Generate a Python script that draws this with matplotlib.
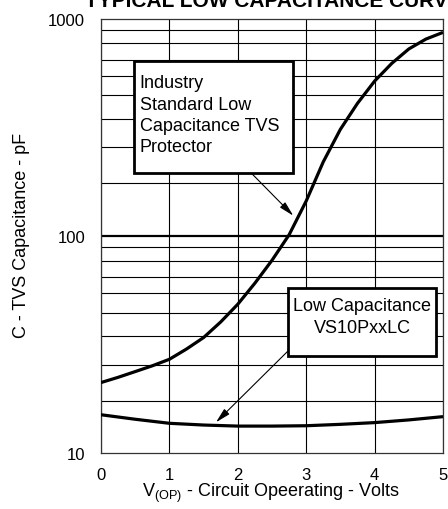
import numpy as np
import matplotlib
matplotlib.use("Agg")
import matplotlib.pyplot as plt
from matplotlib.patches import Rectangle
from matplotlib.ticker import FixedLocator, NullFormatter

plt.rcParams['font.family'] = ['Liberation Sans', 'DejaVu Sans']
plt.rcParams['mathtext.fontset'] = 'custom'
plt.rcParams['mathtext.rm'] = 'Liberation Sans'
plt.rcParams['mathtext.it'] = 'Liberation Sans:italic'

# ---- data ----
v_industry = [0, 0.25, 0.5, 0.75, 1.0, 1.25, 1.5, 1.75, 2.0, 2.25, 2.5, 2.75,
              3.0, 3.25, 3.5, 3.75, 4.0, 4.25, 4.5, 4.75, 5.0]
c_industry = [21.1, 22.3, 23.7, 25.2, 27.0, 30.1, 34.0, 40.1, 48.4, 60.5, 77.1, 101,
              144.5, 219, 309, 407, 515, 621, 724, 804, 863]

v_lowcap = [0, 0.5, 1.0, 1.5, 2.0, 2.5, 3.0, 3.5, 4.0, 4.5, 5.0]
c_lowcap = [15.0, 14.3, 13.7, 13.45, 13.3, 13.3, 13.35, 13.55, 13.8, 14.2, 14.7]

x_ticks = [0, 1, 2, 3, 4, 5]
y_ticks = [10, 100, 1000]
y_ticklabels = ['10', '100', '1000']

title = 'TYPICAL LOW CAPACITANCE CURVE'
label_industry = 'Industry\nStandard Low\nCapacitance TVS\nProtector'
label_lowcap = 'Low Capacitance\nVS10PxxLC'

# ---- figure ----
W, H = 448, 510
fig = plt.figure(figsize=(W / 100, H / 100), dpi=100)
L, R, B, T = 101, 443, 454, 19.5
ax = fig.add_axes([L / W, 1 - B / H, (R - L) / W, (B - T) / H])
ax.set_yscale('log')
ax.set_xlim(0, 5)
ax.set_ylim(10, 1000)

# grid (the original sheet's minor lines are irregular)
fracs = [0.054, 0.115, 0.189, 0.265, 0.354, 0.461, 0.593, 0.759]
minor = [10 ** (d + 1 - f) for d in (1, 2) for f in fracs]
ax.yaxis.set_minor_locator(FixedLocator(minor))
ax.yaxis.set_minor_formatter(NullFormatter())
ax.set_yticks(y_ticks)
ax.set_yticklabels(y_ticklabels)
ax.set_xticks(x_ticks)
ax.tick_params(axis='both', which='both', length=0, labelsize=12)
ax.tick_params(axis='y', pad=11.5)
ax.tick_params(axis='x', pad=10)
ax.grid(True, axis='y', which='minor', color='black', lw=0.8)
ax.grid(True, axis='x', which='major', color='black', lw=0.8)
ax.axhline(100, color='black', lw=1.6, zorder=1.5)
for s in ax.spines.values():
    s.set_linewidth(0.9)
    s.set_color('#333333')
ax.set_axisbelow(True)

ax.plot(v_industry, c_industry, color='black', lw=2.3, solid_capstyle='butt', zorder=3)
ax.plot(v_lowcap, c_lowcap, color='black', lw=2.3, solid_capstyle='butt', zorder=3)

# boxes
def px_to_ax(px, py):
    return ((px - L) / (R - L), (B - py) / (B - T))

x0, y0 = px_to_ax(134.3, 174)
x1, y1 = px_to_ax(293.3, 61.7)
ax.add_patch(Rectangle((x0, y0), x1 - x0, y1 - y0, transform=ax.transAxes,
                       facecolor='white', edgecolor='black', lw=2.0, zorder=4))
tx, ty = px_to_ax(139.5, 75.5)
ax.text(tx, ty, label_industry, transform=ax.transAxes, ha='left', va='top',
        fontsize=13, linespacing=1.32, zorder=5)

x0, y0 = px_to_ax(288.3, 356.7)
x1, y1 = px_to_ax(436, 289.3)
ax.add_patch(Rectangle((x0, y0), x1 - x0, y1 - y0, transform=ax.transAxes,
                       facecolor='white', edgecolor='black', lw=2.0, zorder=4))
tx, ty = px_to_ax(362, 298.5)
ax.text(tx, ty, label_lowcap, transform=ax.transAxes, ha='center', va='top',
        fontsize=13, linespacing=1.38, zorder=5)

arrow_style = dict(arrowstyle='-|>,head_length=0.9,head_width=0.22', color='black',
                   lw=0.8, shrinkA=0, shrinkB=0)
ax.annotate('', xy=px_to_ax(293.3, 216.7), xytext=px_to_ax(251.7, 174.5),
            xycoords='axes fraction', textcoords='axes fraction',
            arrowprops=arrow_style, zorder=6)
ax.annotate('', xy=px_to_ax(216, 423.3), xytext=px_to_ax(288.3, 351.7),
            xycoords='axes fraction', textcoords='axes fraction',
            arrowprops=arrow_style, zorder=6)

# labels
fig.text(85 / W, 1 - 7 / H, title, ha='left', va='baseline', fontsize=15,
         fontweight='bold')
fig.text(22 / W, 1 - 235 / H, 'C - TVS Capacitance - pF', rotation=90,
         ha='center', va='center', fontsize=13)
fig.text(271 / W, 1 - 497 / H, r'V$_{\mathrm{(OP)}}$ - Circuit Opeerating - Volts',
         ha='center', va='baseline', fontsize=13)

fig.savefig('out.png', dpi=100)
